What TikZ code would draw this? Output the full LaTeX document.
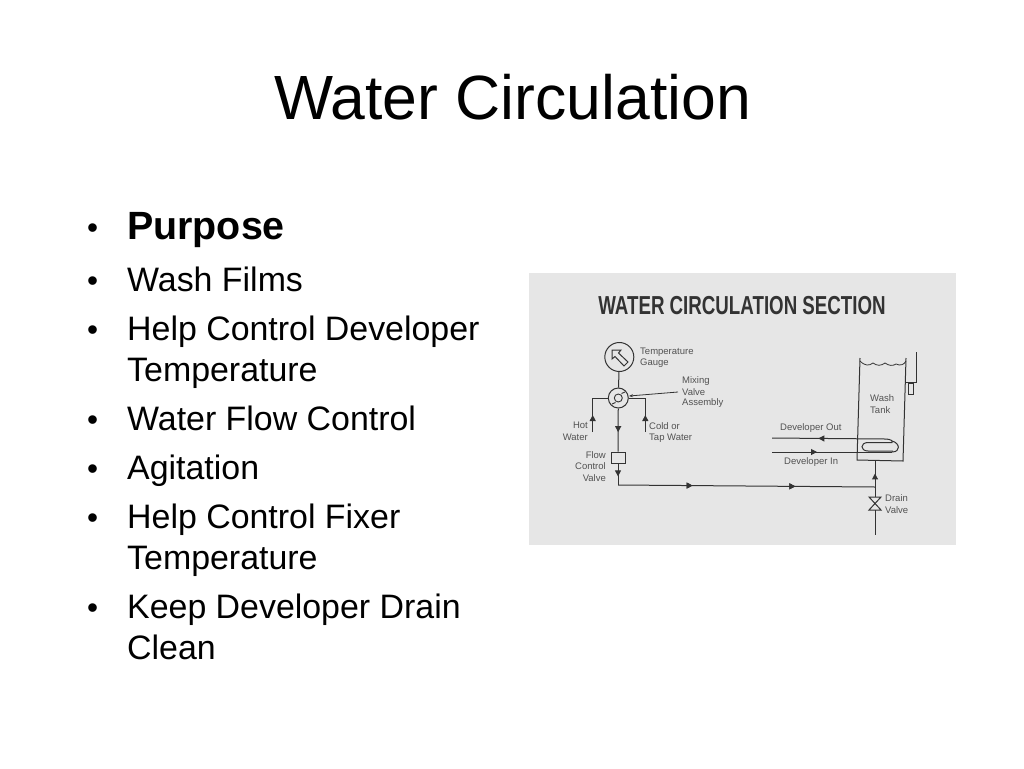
\documentclass[tikz,border=0pt]{standalone}
\usepackage{fontspec}
\usepackage{graphicx}
\setmainfont{Liberation Sans}
\usetikzlibrary{arrows.meta,decorations.markings}
\definecolor{ink}{HTML}{333333}
\definecolor{photo}{HTML}{E6E6E6}
\tikzset{
  x=1pt,y=-1pt,
  bodytext/.style={anchor=base west,inner sep=0pt,font=\fontsize{33.9}{34}\selectfont},
  bul/.style={anchor=base west,inner sep=0pt,font=\fontsize{31.5}{31.5}\selectfont},
  lab/.style={text=ink!85!white,inner sep=0pt,font=\fontsize{9.5}{12}\selectfont,align=left},
  pipe/.style={draw=ink,line width=1pt},
  fwd/.style={decoration={markings,mark=at position #1 with {\arrow{Triangle[length=6pt,width=6pt]}}},postaction={decorate}}
}
\begin{document}
\begin{tikzpicture}
\useasboundingbox (0,0) rectangle (1024,768);
\fill[white] (0,0) rectangle (1024,768);
\node[anchor=base,inner sep=0pt,font=\fontsize{62.5}{62.5}\selectfont] (title) at (512.5,119) {Water Circulation};
\node[bul] (b0) at (87,238) {•};
\node[anchor=base west,inner sep=0pt,font=\bfseries\fontsize{39.4}{39.4}\selectfont] (t0) at (127,239) {Purpose};
\node[bul] (b1) at (87,291) {•};
\node[bodytext] (t1) at (127,291) {Wash Films};
\node[bul] (b2) at (87,340) {•};
\node[bodytext] (t2) at (127,340) {Help Control Developer};
\node[bodytext] (t2b) at (127,381) {Temperature};
\node[bul] (b3) at (87,430) {•};
\node[bodytext] (t3) at (127,430) {Water Flow Control};
\node[bul] (b4) at (87,479) {•};
\node[bodytext] (t4) at (127,479) {Agitation};
\node[bul] (b5) at (87,528) {•};
\node[bodytext] (t5) at (127,528) {Help Control Fixer};
\node[bodytext] (t5b) at (127,569) {Temperature};
\node[bul] (b6) at (87,618) {•};
\node[bodytext] (t6) at (127,618) {Keep Developer Drain};
\node[bodytext] (t6b) at (127,659) {Clean};
% scanned figure
\fill[photo] (529,273) rectangle (956,545);
\node[anchor=base,inner sep=0pt,text=ink,font=\bfseries\fontsize{26}{26}\selectfont] (figtitle) at (742,314) {\scalebox{0.72}[1]{WATER CIRCULATION SECTION}};
% gauge
\node[circle,pipe,minimum size=29pt,inner sep=0pt] (gauge) at (619.3,357) {};
\node[circle,pipe,minimum size=20pt,inner sep=0pt] (mix) at (618.3,398) {};
\draw[pipe] (gauge) -- (mix);
\draw[pipe,fill=photo] (612,350) -- (621,350) -- (618.5,353) -- (628,362) -- (624,366) -- (615,356.5) -- (612,359) -- cycle;
\draw[pipe,line width=0.9pt] (618.3,398) circle (4);
\draw[pipe,line width=0.9pt] (612,404) -- (615.5,402.5);
\draw[pipe,line width=0.9pt] (621.5,393.5) -- (625,392);
\coordinate (hotS) at (592.7,432);
\coordinate (coldS) at (645.3,432);
\coordinate (hotC) at (592.7,398);
\coordinate (coldC) at (645.3,398);
\draw[pipe,fwd=0.5] (hotS) -- (hotC);
\draw[pipe] (hotC) -- (mix);
\draw[pipe,fwd=0.5] (coldS) -- (coldC);
\draw[pipe] (coldC) -- (mix);
\node[draw=ink,line width=1pt,minimum width=14pt,minimum height=11pt,inner sep=0pt] (flow) at (618,457.5) {};
\draw[pipe,fwd=0.55] (mix) -- (flow);
\coordinate (corner) at (618,485);
\coordinate (junction) at (875,487);
\draw[pipe,fwd=0.6] (flow) -- (corner);
\draw[pipe,fwd=0.29,fwd=0.69] (corner) -- (junction);
% tank
\draw[pipe] (860,358) -- (857,460) -- (903,461) -- (906,358);
\draw[pipe,line width=0.8pt] (860,361) .. controls (865,366) and (869,366) .. (873,363) .. controls (877,366) and (881,366) .. (885,363) .. controls (889,366) and (893,366) .. (896,364) .. controls (900,366) and (904,365) .. (906,361);
\draw[pipe] (916,352) -- (916,382) -- (906,382);
\draw[pipe,line width=0.8pt] (908,383) rectangle (913,394);
% coil
\coordinate (outS) at (772,438);
\coordinate (inS) at (772,452);
\draw[pipe,fwd=0.59] (885,439) -- (outS);
\draw[pipe] (885,439) .. controls (891,439) and (893,441) .. (892,442.5) -- (868,442.5) .. controls (860,442.5) and (860,451) .. (868,451) -- (893,451);
\draw[pipe,fwd=0.375] (inS) -- (892,452);
\draw[pipe] (892,452) .. controls (901,452) and (900,443) .. (892,441);
% drain
\coordinate (drainEnd) at (875,535);
\coordinate (tankB) at (875,461);
\draw[pipe,fwd=0.52] (junction) -- (tankB);
\draw[pipe] (junction) -- (875,497);
\draw[pipe] (875,510) -- (drainEnd);
\draw[pipe] (869,497) -- (881,497) -- (869,510) -- (881,510) -- cycle;
% labels
\node[lab,anchor=west] (l1) at (640,352) {Temperature};
\node[lab,anchor=west] (l2) at (640,363) {Gauge};
\node[lab,anchor=west] (l3) at (682,381) {Mixing};
\node[lab,anchor=west] (l4) at (682,392) {Valve};
\node[lab,anchor=west] (l5) at (682,403.5) {Assembly};
\draw[pipe,line width=0.8pt,-{Stealth[length=4pt]}] (678,392) -- (629,396);
\node[lab,anchor=east] (l6) at (588,425) {Hot};
\node[lab,anchor=east] (l7) at (588,437) {Water};
\node[lab,anchor=west] (l8) at (649,426) {Cold or};
\node[lab,anchor=west] (l9) at (649,438) {Tap Water};
\node[lab,anchor=east] (l10) at (606,455) {Flow};
\node[lab,anchor=east] (l11) at (606,466) {Control};
\node[lab,anchor=east] (l12) at (606,478) {Valve};
\node[lab,anchor=west] (l13) at (870,398) {Wash};
\node[lab,anchor=west] (l14) at (870,410) {Tank};
\node[lab,anchor=west] (l15) at (780,428) {Developer Out};
\node[lab,anchor=west] (l16) at (784,462) {Developer In};
\node[lab,anchor=west] (l17) at (885,498) {Drain};
\node[lab,anchor=west] (l18) at (885,510) {Valve};
\end{tikzpicture}
\end{document}
